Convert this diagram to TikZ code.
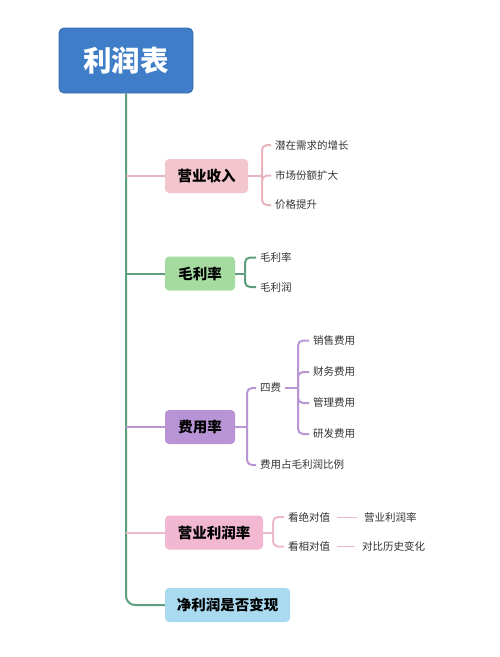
\documentclass[tikz,border=0pt]{standalone}
\usepackage{fontspec}
\setmainfont{Noto Sans CJK SC}
\usetikzlibrary{calc}
\definecolor{trunkc}{HTML}{5C9E7E}
\definecolor{rootc}{HTML}{3F7DC8}
\definecolor{rootb}{HTML}{3569AA}
\definecolor{pinkA}{HTML}{F3C5CD}
\definecolor{pinkAl}{HTML}{E8B5BF}
\definecolor{greenB}{HTML}{A6DBA0}
\definecolor{purpC}{HTML}{B894D6}
\definecolor{purpCl}{HTML}{B997D5}
\definecolor{pinkD}{HTML}{F2B8D2}
\definecolor{pinkDl}{HTML}{EDB9CF}
\definecolor{blueE}{HTML}{A9DAF0}
\definecolor{txt}{HTML}{333333}
\tikzset{
  rootbox/.style={draw=rootb, line width=0.8pt, fill=rootc, rounded corners=5pt, minimum width=134pt, minimum height=65pt, text=white, font=\fontsize{28.5}{30}\selectfont\bfseries, inner sep=0pt},
  mainbox/.style={rounded corners=4pt, minimum height=34pt, inner sep=0pt, text=black, font=\fontsize{14.5}{16}\selectfont\bfseries},
  leaf/.style={anchor=west, inner sep=4pt, text=txt, font=\fontsize{10.5}{12}\selectfont},
  trunk/.style={draw=trunkc, line width=2pt},
  lineA/.style={draw=pinkAl, line width=2pt, rounded corners=5pt},
  lineB/.style={draw=trunkc, line width=2pt, rounded corners=5pt},
  lineC/.style={draw=purpCl, line width=2pt, rounded corners=5pt},
  lineD/.style={draw=pinkDl, line width=2pt, rounded corners=5pt},
  thin/.style={line width=1pt}
}
\begin{document}
\begin{tikzpicture}[x=1pt,y=-1pt]
\useasboundingbox[fill=white] (0,0) rectangle (500,657);
% root
\node[rootbox] (root) at (126,60.5) {利润表};
% main boxes
\node[mainbox, fill=pinkA, minimum width=83pt] (yy) at (206.5,176) {营业收入};
\node[mainbox, fill=greenB, minimum width=70pt] (ml) at (200,273.5) {毛利率};
\node[mainbox, fill=purpC, minimum width=70pt] (fy) at (200,427) {费用率};
\node[mainbox, fill=pinkD, minimum width=98pt] (lr) at (214,532.5) {营业利润率};
\node[mainbox, fill=blueE, minimum width=125pt] (jl) at (227.5,605) {净利润是否变现};
% trunk
\draw[trunk, rounded corners=9pt] (root.south) |- (jl.west);
\coordinate (t1) at (root.south |- yy.west);
\coordinate (t2) at (root.south |- ml.west);
\coordinate (t3) at (root.south |- fy.west);
\coordinate (t4) at (root.south |- lr.west);
\draw[lineA] (t1) -- (yy.west);
\draw[lineB] (t2) -- (ml.west);
\draw[lineC] (t3) -- (fy.west);
\draw[lineD] (t4) -- (lr.west);
% 营业收入 children
\node[leaf] (a1) at (271,145) {潜在需求的增长};
\node[leaf] (a2) at (271,175.5) {市场份额扩大};
\node[leaf] (a3) at (271,205) {价格提升};
\coordinate (ba) at (262,176);
\draw[lineA] (yy.east) -- (ba);
\draw[lineA] (ba) |- (a1.west);
\draw[lineA] (ba) |- (a3.west);
\draw[lineA] (ba) -- (ba |- a2.west) -- (a2.west);
% 毛利率 children
\node[leaf] (b1) at (256,257.5) {毛利率};
\node[leaf] (b2) at (256,287) {毛利润};
\coordinate (bb) at (245,273.5);
\draw[lineB] (ml.east) -- (bb);
\draw[lineB] (bb) |- (b1.west);
\draw[lineB] (bb) |- (b2.west);
% 费用率 children
\node[leaf] (c1) at (256,388) {四费};
\node[leaf] (c2) at (256,465) {费用占毛利润比例};
\coordinate (bc) at (247,427);
\draw[lineC] (fy.east) -- (bc);
\draw[lineC] (bc) |- (c1.west);
\draw[lineC] (bc) |- (c2.west);
\node[leaf] (d1) at (309,340.5) {销售费用};
\node[leaf] (d2) at (309,372) {财务费用};
\node[leaf] (d3) at (309,403) {管理费用};
\node[leaf] (d4) at (309,434) {研发费用};
\coordinate (bd) at (298,388);
\draw[lineC] (c1.east) -- (bd);
\draw[lineC] (bd) |- (d1.west);
\draw[lineC] (bd) |- (d2.west);
\draw[lineC] (bd) |- (d3.west);
\draw[lineC] (bd) |- (d4.west);
% 营业利润率 children
\node[leaf] (e1) at (284,517) {看绝对值};
\node[leaf] (e2) at (284,546.5) {看相对值};
\coordinate (be) at (273,532.5);
\draw[lineD] (lr.east) -- (be);
\draw[lineD] (be) |- (e1.west);
\draw[lineD] (be) |- (e2.west);
\node[leaf] (f1) at (360,517) {营业利润率};
\node[leaf] (f2) at (358,546.5) {对比历史变化};
\draw[lineD, thin] ($(e1.east)+(3,0)$) -- ($(f1.west)+(-3,0)$);
\draw[lineD, thin] ($(e2.east)+(3,0)$) -- ($(f2.west)+(-3,0)$);
\end{tikzpicture}
\end{document}
